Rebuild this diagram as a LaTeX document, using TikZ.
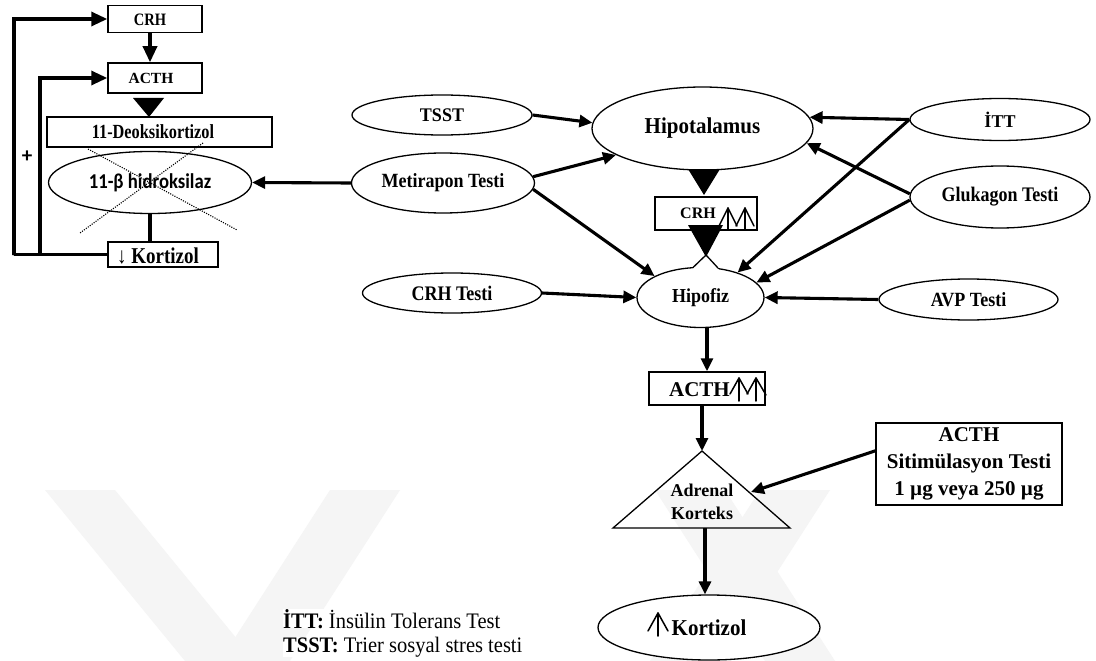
\documentclass[tikz,border=0pt]{standalone}
\usepackage{fontspec}
\setmainfont{Liberation Serif}
\newfontfamily\calib{Carlito}
\usetikzlibrary{arrows.meta,shapes.geometric,calc}
\newcommand\fsz[1]{\fontsize{#1}{#1}\selectfont}
\newcommand\vsc[2]{\scalebox{1}[#1]{#2}}
\begin{document}
\begin{tikzpicture}[x=1pt,y=-1pt,
  ell/.style={ellipse,draw,fill=white,line width=1.3pt,inner sep=0pt,font=\fsz{18}\bfseries},
  box/.style={rectangle,draw,fill=white,line width=1.5pt,inner sep=0pt},
  arr/.style={line width=3.1pt,-{Triangle[length=13pt,width=12pt]}},
  farr/.style={line width=3.3pt,-{Triangle[length=16pt,width=14pt]}},
  sym/.style={line width=1.5pt,line cap=round,line join=round},
  wm/.style={fill=black!4,draw=none},
  lbl/.style={inner sep=0pt}
]
\useasboundingbox (0,0) rectangle (1096,661);
\fill[white] (0,0) rectangle (1096,661);
% faint watermark
\fill[wm] (45,490) -- (115,490) -- (255,661) -- (185,661) -- cycle;
\fill[wm] (330,490) -- (400,490) -- (290,661) -- (220,661) -- cycle;
\fill[wm] (655,490) -- (725,490) -- (835,661) -- (765,661) -- cycle;
\fill[wm] (760,490) -- (830,490) -- (720,661) -- (650,661) -- cycle;

% ---------- top-left mechanism ----------
\node[box,minimum width=94,minimum height=27] (crh1) at (155,19) {};
\node[lbl,font=\fsz{14.5}\bfseries] (crh1t) at (150,20) {\vsc{1.2}{CRH}};
\node[box,minimum width=94,minimum height=30] (acth1) at (155,78) {};
\node[lbl,font=\fsz{15.5}\bfseries] (acth1t) at (151,78) {ACTH};
\node[box,minimum width=225,minimum height=30] (deok) at (159.5,132) {};
\node[lbl,font=\fsz{16.3}\bfseries] (deokt) at (153,132) {\vsc{1.23}{11-Deoksikortizol}};
\node[ell,minimum width=203,minimum height=62,font=\calib\fsz{18.7}\bfseries] (hid) at (150,182.5) {\vsc{1.13}{11-β hidroksilaz}};
\node[box,minimum width=110,minimum height=25] (kbox) at (163,254.5) {};
\node[lbl,font=\fsz{19}\bfseries] (kboxt) at (158,256) {\vsc{1.19}{↓ Kortizol}};
\node[lbl,font=\calib\fsz{21}\bfseries] (plus) at (27,157) {+};

\draw[farr] (crh1.south -| 150,0) -- (acth1.north -| 150,0);
\fill (133,98) -- (164,98) -- (149,117) -- cycle;
\draw[line width=1.1pt,dash pattern=on 1.1pt off 1.3pt] (88,149) -- (237,230);
\draw[line width=1.1pt,dash pattern=on 1.1pt off 1.3pt] (203,143) -- (80,233);
\draw[line width=4pt] (hid.south) -- (hid.south |- kbox.north);
\coordinate (fbL) at (14,255);
\coordinate (fbM) at (40,255);
\draw[farr] (kbox.west) -| (fbL) |- (crh1.west);
\draw[farr] (fbM) |- (acth1.west);

% ---------- main axis ----------
\node[ell,minimum width=221,minimum height=83,font=\fsz{21}\bfseries] (hipo) at (702.5,128.5) {\vsc{1.08}{Hipotalamus}};
\node[ell,minimum width=180,minimum height=40] (tsst) at (442,115) {\vsc{1.07}{TSST}};
\node[ell,minimum width=183,minimum height=60] (met) at (443,183) {\vsc{1.12}{Metirapon Testi}};
\node[ell,minimum width=180,minimum height=42] (itt) at (1000,119.5) {İTT};
\node[ell,minimum width=180,minimum height=62] (glu) at (1000,197) {\vsc{1.15}{Glukagon Testi}};
\node[ell,minimum width=179,minimum height=40] (crht) at (452,293) {\vsc{1.15}{CRH Testi}};
\node[ell,minimum width=179,minimum height=41] (avp) at (968.5,299.5) {\vsc{1.12}{AVP Testi}};
\node[ell,minimum width=127,minimum height=60] (hipof) at (700.5,297.5) {\vsc{1.1}{Hipofiz}};

% CRH box with triangles
\fill (688,169) -- (720,169) -- (704,195) -- cycle;
\node[box,minimum width=102,minimum height=33] (crh2) at (706,213.5) {};
\node[lbl,font=\fsz{16}\bfseries] (crh2t) at (698,213) {CRH};
\draw[sym] (719,226) -- (728,208) -- (737,226);
\draw[sym] (728,208) -- (728,229);
\draw[sym] (736,226) -- (745,208) -- (754,226);
\draw[sym] (745,208) -- (745,229);
\fill[white] (691,270) -- (706,255) -- (719,270) -- cycle;
\draw[line width=1.3pt,line join=round] (692.5,268) -- (706,255) -- (718,268);
\fill (688,225) -- (723,225) -- (706,257) -- cycle;

% ACTH box
\node[box,minimum width=116,minimum height=33] (acth2) at (707,388.5) {};
\node[lbl,font=\fsz{21}\bfseries] (acth2t) at (699.5,390) {ACTH};
\draw[sym] (730,394) -- (739,378) -- (748,394);
\draw[sym] (739,378) -- (739,401);
\draw[sym] (747,394) -- (756,378) -- (766,395);
\draw[sym] (756,378) -- (756,401);

% Adrenal cortex triangle
\coordinate (adrA) at (702,451);
\coordinate (adrL) at (613,528);
\coordinate (adrRR) at (790,528);
\coordinate (adrR) at (751,492);
\coordinate (adrB) at (705,528);
\draw[line width=1.3pt,line join=miter] (adrA) -- (adrL) -- (adrRR) -- cycle;
\node[lbl,font=\fsz{18}\bfseries] (adr1) at (702,490) {Adrenal};
\node[lbl,font=\fsz{18}\bfseries] (adr2) at (702,513) {Korteks};

\node[box,minimum width=186,minimum height=82,align=center,font=\fontsize{21}{27}\selectfont\bfseries] (stim) at (969,464) {ACTH\\Sitimülasyon Testi\\1 µg veya 250 µg};

\node[ell,minimum width=222,minimum height=65,font=\fsz{21}\bfseries] (kort) at (709,627.5) {\vsc{1.08}{Kortizol}};
\draw[sym] (648,631) -- (658,613) -- (668,631);
\draw[sym] (658,613) -- (658,636);

% arrows
\draw[arr] (tsst.east) -- (hipo.177);
\draw[arr] (met.4) -- (hipo.197);
\draw[arr] (met.-4) -- (hipof.155);
\draw[arr] (met.west) -- (hid.east);
\draw[arr] (itt.west) -- (hipo.6);
\draw[arr] (itt.west) -- (hipof.34);
\draw[arr] (glu.178) -- (hipo.-8);
\draw[arr] (glu.182) -- (hipof.15);
\draw[arr] (crht.east) -- (hipof.west);
\draw[arr] (avp.west) -- (hipof.east);
\draw[arr] (hipof.south -| acth2.north) -- (acth2.north);
\draw[arr] (acth2.south -| adrA) -- (adrA);
\draw[arr] (stim.172.6) -- (adrR);
\draw[arr] (adrB) -- (adrB |- kort.north);

% legend
\node[anchor=base west,lbl,fill=white,font=\fsz{20.5}] (leg1) at (283,628) {\vsc{1.08}{\textbf{İTT:} İnsülin Tolerans Test}};
\node[anchor=base west,lbl,fill=white,font=\fsz{20.5}] (leg2) at (283,652) {\vsc{1.08}{\textbf{TSST:} Trier sosyal stres testi}};
\end{tikzpicture}
\end{document}
